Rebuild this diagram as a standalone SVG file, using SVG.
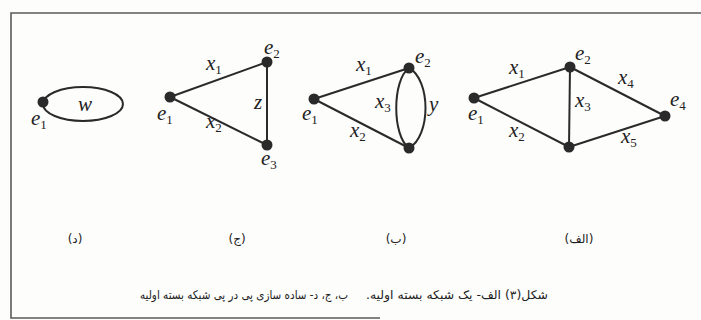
<svg xmlns="http://www.w3.org/2000/svg" width="701" height="320" viewBox="0 0 701 320">
<style>
.frame{stroke:#5a5a5a;stroke-width:1.6;fill:none}
.edge{stroke:#2a2a2a;stroke-width:2;fill:none}
.node{fill:#2a2a2a}
.lbl{font-family:'Liberation Serif','Times New Roman',serif;font-style:italic;font-size:21px;fill:#222}
.sub{font-style:normal;font-size:13px}
.fa{font-family:'DejaVu Sans',sans-serif;font-size:12px;fill:#222}
</style>
<rect width="701" height="320" fill="#fdfdfc"/>
<g id="frame">
<polyline class="frame" points="701,13 11,13 11,318 380,318"/>
</g>
<g id="connectors">
<ellipse class="edge" cx="83" cy="104" rx="40" ry="17"/>
<line class="edge" x1="170" y1="97" x2="267" y2="62"/>
<line class="edge" x1="170" y1="97" x2="267" y2="145"/>
<line class="edge" x1="267" y1="62" x2="267" y2="145"/>
<line class="edge" x1="314" y1="99" x2="409" y2="68"/>
<line class="edge" x1="314" y1="99" x2="409" y2="148"/>
<path class="edge" d="M409,68 C392,80 392,136 409,148"/>
<path class="edge" d="M409,68 C431,80 431,136 409,148"/>
<line class="edge" x1="474" y1="98" x2="570" y2="67"/>
<line class="edge" x1="474" y1="98" x2="569" y2="147"/>
<line class="edge" x1="570" y1="67" x2="569" y2="147"/>
<line class="edge" x1="570" y1="67" x2="665" y2="116"/>
<line class="edge" x1="569" y1="147" x2="665" y2="116"/>
</g>
<g id="graph-d">
<circle class="node" cx="43" cy="102" r="5.5"/>
<text class="lbl" x="78" y="111">w</text>
<text class="lbl" x="31" y="125">e<tspan class="sub" dy="4">1</tspan></text>
</g>
<g id="graph-j">
<circle class="node" cx="170" cy="97" r="5.5"/>
<circle class="node" cx="267" cy="62" r="5.5"/>
<circle class="node" cx="267" cy="145" r="5.5"/>
<text class="lbl" x="157" y="120">e<tspan class="sub" dy="4">1</tspan></text>
<text class="lbl" x="264" y="54">e<tspan class="sub" dy="4">2</tspan></text>
<text class="lbl" x="261" y="165">e<tspan class="sub" dy="4">3</tspan></text>
<text class="lbl" x="206" y="70">x<tspan class="sub" dy="4">1</tspan></text>
<text class="lbl" x="206" y="128">x<tspan class="sub" dy="4">2</tspan></text>
<text class="lbl" x="254" y="109">z</text>
</g>
<g id="graph-b">
<circle class="node" cx="314" cy="99" r="5.5"/>
<circle class="node" cx="409" cy="68" r="5.5"/>
<circle class="node" cx="409" cy="148" r="5.5"/>
<text class="lbl" x="302" y="120">e<tspan class="sub" dy="4">1</tspan></text>
<text class="lbl" x="415" y="63">e<tspan class="sub" dy="4">2</tspan></text>
<text class="lbl" x="356" y="71">x<tspan class="sub" dy="4">1</tspan></text>
<text class="lbl" x="350" y="137">x<tspan class="sub" dy="4">2</tspan></text>
<text class="lbl" x="375" y="108">x<tspan class="sub" dy="4">3</tspan></text>
<text class="lbl" x="429" y="111">y</text>
</g>
<g id="graph-alef">
<circle class="node" cx="474" cy="98" r="5.5"/>
<circle class="node" cx="570" cy="67" r="5.5"/>
<circle class="node" cx="569" cy="147" r="5.5"/>
<circle class="node" cx="665" cy="116" r="5.5"/>
<text class="lbl" x="468" y="120">e<tspan class="sub" dy="4">1</tspan></text>
<text class="lbl" x="575" y="60">e<tspan class="sub" dy="4">2</tspan></text>
<text class="lbl" x="670" y="106">e<tspan class="sub" dy="4">4</tspan></text>
<text class="lbl" x="509" y="74">x<tspan class="sub" dy="4">1</tspan></text>
<text class="lbl" x="509" y="137">x<tspan class="sub" dy="4">2</tspan></text>
<text class="lbl" x="575" y="107">x<tspan class="sub" dy="4">3</tspan></text>
<text class="lbl" x="618" y="84">x<tspan class="sub" dy="4">4</tspan></text>
<text class="lbl" x="621" y="143">x<tspan class="sub" dy="4">5</tspan></text>
</g>
<g id="labels">
<text class="fa" x="75" y="243" text-anchor="middle" font-size="13">(د)</text>
<text class="fa" x="237" y="243" text-anchor="middle" font-size="13">(ج)</text>
<text class="fa" x="396" y="243" text-anchor="middle" font-size="13">(ب)</text>
<text class="fa" x="579" y="243" text-anchor="middle" font-size="13">(الف)</text>
<text class="fa" x="366" y="299" direction="rtl" textLength="182" lengthAdjust="spacingAndGlyphs" text-anchor="end">شکل(۳)  الف- یک شبکه بسته اولیه.</text>
<text class="fa" x="140" y="299" direction="rtl" textLength="208" lengthAdjust="spacingAndGlyphs" text-anchor="end">ب، ج، د- ساده سازی پی در پی شبکه بسته اولیه</text>
</g>
</svg>
